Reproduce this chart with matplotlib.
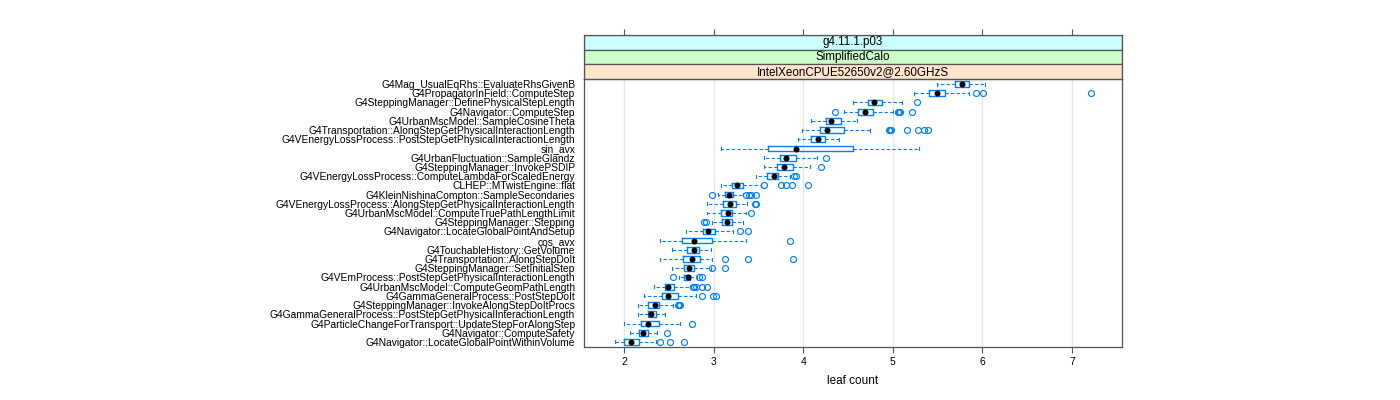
#!/usr/bin/env python3

import matplotlib
matplotlib.use('Agg')
import matplotlib.pyplot as plt
from matplotlib.patches import Rectangle

plt.rcParams['font.family'] = ['Liberation Sans', 'DejaVu Sans']

# function names, top to bottom
labels = [
    'G4Mag_UsualEqRhs::EvaluateRhsGivenB',
    'G4PropagatorInField::ComputeStep',
    'G4SteppingManager::DefinePhysicalStepLength',
    'G4Navigator::ComputeStep',
    'G4UrbanMscModel::SampleCosineTheta',
    'G4Transportation::AlongStepGetPhysicalInteractionLength',
    'G4VEnergyLossProcess::PostStepGetPhysicalInteractionLength',
    'sin_avx',
    'G4UrbanFluctuation::SampleGlandz',
    'G4SteppingManager::InvokePSDIP',
    'G4VEnergyLossProcess::ComputeLambdaForScaledEnergy',
    'CLHEP::MTwistEngine::flat',
    'G4KleinNishinaCompton::SampleSecondaries',
    'G4VEnergyLossProcess::AlongStepGetPhysicalInteractionLength',
    'G4UrbanMscModel::ComputeTruePathLengthLimit',
    'G4SteppingManager::Stepping',
    'G4Navigator::LocateGlobalPointAndSetup',
    'cos_avx',
    'G4TouchableHistory::GetVolume',
    'G4Transportation::AlongStepDoIt',
    'G4SteppingManager::SetInitialStep',
    'G4VEmProcess::PostStepGetPhysicalInteractionLength',
    'G4UrbanMscModel::ComputeGeomPathLength',
    'G4GammaGeneralProcess::PostStepDoIt',
    'G4SteppingManager::InvokeAlongStepDoItProcs',
    'G4GammaGeneralProcess::PostStepGetPhysicalInteractionLength',
    'G4ParticleChangeForTransport::UpdateStepForAlongStep',
    'G4Navigator::ComputeSafety',
    'G4Navigator::LocateGlobalPointWithinVolume',
]

# box statistics (leaf count)
whis_lo = [5.49, 5.24, 4.55, 4.45, 4.09, 3.99, 3.94, 3.08, 3.56, 3.56, 3.47, 3.08, 3.05, 2.93, 2.92,
           2.98, 2.69, 2.40, 2.53, 2.40, 2.53, 2.61, 2.33, 2.22, 2.15, 2.15, 2.00, 2.06, 1.90]
q1 = [5.70, 5.40, 4.72, 4.61, 4.25, 4.19, 4.09, 3.61, 3.74, 3.71, 3.60, 3.20, 3.12, 3.10, 3.08,
      3.09, 2.88, 2.64, 2.70, 2.66, 2.67, 2.67, 2.45, 2.42, 2.26, 2.27, 2.19, 2.17, 2.00]
med = [5.77, 5.49, 4.79, 4.69, 4.31, 4.26, 4.16, 3.92, 3.81, 3.79, 3.67, 3.26, 3.17, 3.18, 3.16,
       3.15, 2.94, 2.78, 2.78, 2.76, 2.72, 2.71, 2.49, 2.49, 2.34, 2.30, 2.26, 2.21, 2.07]
q3 = [5.85, 5.58, 4.88, 4.78, 4.42, 4.45, 4.24, 4.56, 3.92, 3.88, 3.72, 3.33, 3.21, 3.25, 3.20,
      3.20, 3.01, 2.98, 2.83, 2.85, 2.78, 2.74, 2.56, 2.60, 2.39, 2.35, 2.39, 2.27, 2.16]
whis_hi = [6.03, 5.85, 5.10, 5.00, 4.60, 4.75, 4.40, 5.29, 4.15, 4.07, 3.85, 3.53, 3.33, 3.37, 3.36,
           3.33, 3.21, 3.36, 2.97, 2.98, 2.97, 2.81, 2.74, 2.80, 2.54, 2.45, 2.62, 2.37, 2.35]
outliers = [
    [], [5.93, 6.01, 7.21], [5.27], [4.35, 5.06, 5.07, 5.08, 5.21], [],
    [4.96, 4.97, 4.98, 5.16, 5.28, 5.35, 5.39], [], [], [4.25], [4.20],
    [3.90, 3.92], [3.56, 3.75, 3.81, 3.87, 4.05], [2.98, 3.36, 3.39, 3.42, 3.47],
    [3.46, 3.47], [3.42], [2.89, 2.91], [3.29, 3.38], [3.85], [],
    [3.12, 3.38, 3.88], [2.98, 3.12], [2.55, 2.84, 2.87], [2.77, 2.78, 2.80, 2.87, 2.93],
    [2.87, 2.99, 3.03], [2.60, 2.61, 2.62], [], [2.76], [2.48], [2.40, 2.51, 2.67],
]

strip_labels = ['g4.11.1.p03', 'SimplifiedCalo', 'IntelXeonCPUE52650v2@2.60GHzS']
strip_colors = ['#ccffff', '#ccffcc', '#ffe5cc']
xticks = [2, 3, 4, 5, 6, 7]

blue = '#0080ff'
border = '#555555'

fig = plt.figure(figsize=(14, 4), dpi=100)
ax = fig.add_axes([0.4168, 0.1325, 0.3846, 0.67])

pos = list(range(1, len(labels) + 1))
stats = []
for i in range(len(labels)):
    stats.append(dict(whislo=whis_lo[i], q1=q1[i], med=med[i], q3=q3[i],
                      whishi=whis_hi[i], fliers=outliers[i]))

for g in xticks:
    ax.axvline(g, color='#e6e6e6', lw=0.9, zorder=0)

ax.bxp(stats, positions=pos, orientation='horizontal', widths=0.62, capwidths=0.32,
       showfliers=True,
       boxprops=dict(color=blue, lw=1.0),
       whiskerprops=dict(color=blue, lw=0.8, ls=(0, (3, 2))),
       capprops=dict(color=blue, lw=0.8),
       medianprops=dict(ls='none'),
       flierprops=dict(marker='o', mfc='none', mec=blue, ms=4.3, mew=0.85))
ax.scatter(med, pos, s=11, color='black', zorder=5)

ax.set_xlim(1.545, 7.56)
ax.set_ylim(len(labels) + 0.55, 0.45)
ax.set_yticks(pos)
ax.set_yticklabels(labels, fontsize=7.4)
ax.tick_params(axis='y', length=0, pad=6)
ax.set_xticks(xticks)
ax.tick_params(axis='x', length=4, width=0.8, color=border, labelsize=7.5, pad=3)
ax.set_xlabel('leaf count', fontsize=8.5, labelpad=6)
for s in ax.spines.values():
    s.set_color(border)
    s.set_linewidth(0.9)

# stacked strips on top of the panel
sax = fig.add_axes([0.4168, 0.8025, 0.3846, 0.11], sharex=ax)
sax.set_ylim(0, 3)
for k, (txt, col) in enumerate(zip(strip_labels, strip_colors)):
    y0 = 2 - k
    sax.add_patch(Rectangle((1.545, y0), 7.56 - 1.545, 1, facecolor=col,
                            edgecolor=border, lw=0.9))
    sax.text((1.545 + 7.56) / 2, y0 + 0.5, txt, ha='center', va='center', fontsize=8.4)
sax.set_yticks([])
sax.xaxis.tick_top()
sax.tick_params(axis='x', length=4, width=0.8, color=border, labeltop=False, labelbottom=False)
for s in sax.spines.values():
    s.set_color(border)
    s.set_linewidth(0.9)

fig.savefig('out.png', dpi=100)
